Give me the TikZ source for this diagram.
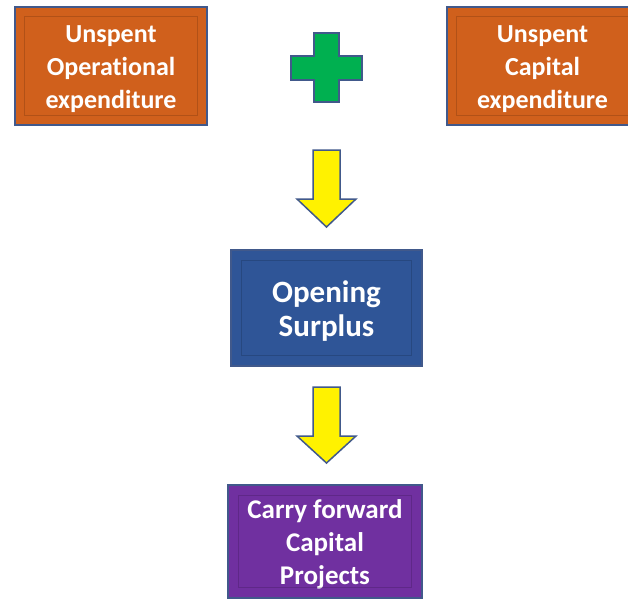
\documentclass[tikz,border=0pt]{standalone}
\usepackage{fontspec}
\setmainfont{Carlito}[Ligatures=NoCommon]
\usetikzlibrary{calc}
\definecolor{boxorange}{HTML}{D0601C}
\definecolor{boxblue}{HTML}{2F5597}
\definecolor{boxpurple}{HTML}{7030A0}
\definecolor{plusgreen}{HTML}{00B050}
\definecolor{edgeblue}{HTML}{41598B}
\tikzset{
  box/.style={draw=edgeblue, line width=1.5pt, align=center, text=white,
    inner sep=0pt, font=\fontsize{26}{33}\selectfont\bfseries},
  bevel/.style={draw=black, draw opacity=0.15, line width=1.2pt},
  blockarrow/.style={draw=edgeblue, fill=yellow, line width=1.5pt, line join=miter},
}
\begin{document}
\begin{tikzpicture}[x=1pt,y=-1pt]
\useasboundingbox[fill=white] (0,0) rectangle (628,600);

\node[box, fill=boxorange, minimum width=192pt, minimum height=118pt] (opex) at (111,66) {\rule{0pt}{24pt}Unspent\\Operational\\expenditure};
\node[box, fill=boxorange, minimum width=191pt, minimum height=118pt] (capex) at (542.5,66) {\rule{0pt}{24pt}Unspent\\Capital\\expenditure};
\node[box, fill=boxblue, minimum width=191pt, minimum height=116pt, font=\fontsize{31}{34}\selectfont\bfseries] (surplus) at (326.5,308) {\rule{0pt}{27pt}Opening\\Surplus};
\node[box, fill=boxpurple, minimum width=194pt, minimum height=113pt, font=\fontsize{27}{33}\selectfont\bfseries] (carry) at (325,541.5) {\rule{0pt}{24pt}Carry forward\\Capital\\Projects};

\path[bevel] ($(opex.north west)+(10,10)$) rectangle ($(opex.south east)+(-10,-10)$);
\path[bevel] ($(capex.north west)+(10,10)$) rectangle ($(capex.south east)+(-10,-10)$);
\path[bevel] ($(surplus.north west)+(11,11)$) rectangle ($(surplus.south east)+(-11,-11)$);
\path[bevel] ($(carry.north west)+(11,11)$) rectangle ($(carry.south east)+(-11,-11)$);

\path[draw=edgeblue, fill=plusgreen, line width=1.5pt, line join=miter]
  (314,33) -- (339,33) -- (339,56) -- (362,56) -- (362,80) -- (339,80)
  -- (339,102) -- (314,102) -- (314,80) -- (291,80) -- (291,56) -- (314,56) -- cycle;

\path[blockarrow] (313,150) -- (340,150) -- (340,199) -- (356,199) -- (326.5,227)
  -- (297,199) -- (313,199) -- cycle;
\path[blockarrow] (313,387) -- (340,387) -- (340,436) -- (356,436) -- (326.5,463)
  -- (297,436) -- (313,436) -- cycle;
\end{tikzpicture}
\end{document}
